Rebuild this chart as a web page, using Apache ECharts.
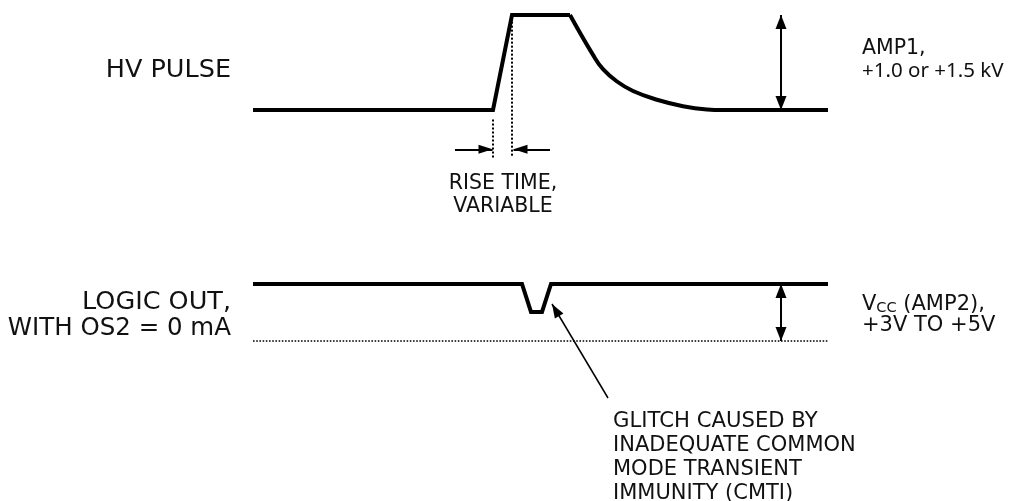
<!DOCTYPE html>
<html>
<head>
<meta charset="utf-8">
<script src="https://cdn.jsdelivr.net/npm/echarts@6/dist/echarts.min.js"></script>
<style>html,body{margin:0;padding:0;background:#fff;}#c{width:1009px;height:501px;}</style>
</head>
<body>
<div id="c"></div>
<script>
// HV pulse waveform: time units vs normalized level (0 = baseline, 1 = AMP1)
const hvTime  = [0, 240, 259, 317];
const hvLevel = [0, 0, 1, 1];
// HV pulse decay tail (smooth)
const decayTime  = [317, 340, 350, 364, 380, 404, 430, 454, 470, 575];
const decayLevel = [1, 0.58, 0.43, 0.30, 0.20, 0.108, 0.04, 0.006, 0, 0];
// Logic output: 1 = Vcc, 0 = ground; glitch dip in the middle
const logicTime  = [0, 269, 278, 289, 298, 575];
const logicLevel = [1, 1, 0.51, 0.51, 1, 1];
// Annotation geometry in the same time/level units
const riseStart = 240, riseEnd = 259, riseArrowLevel = -0.414;
const riseArrowFromLeft = 202, riseArrowFromRight = 297;
const ampArrowTime = 528;
const glitchTip = [299, 0.649], glitchTail = [355, -1];
// Text labels
const labelHV = 'HV PULSE';
const labelLogic = ['LOGIC OUT,', 'WITH OS2 = 0 mA'];
const labelRise = ['RISE TIME,', 'VARIABLE'];
const labelAmp1 = ['AMP1,', '+1.0 or +1.5 kV'];
const labelVcc2 = '+3V TO +5V';
const labelGlitch = ['GLITCH CAUSED BY', 'INADEQUATE COMMON', 'MODE TRANSIENT', 'IMMUNITY (CMTI)'];

const FONT = 'DejaVu Sans';
const BLACK = '#000';
const arrowSize = [11, 14];

function pairs(a, b) { return a.map((v, i) => [v, b[i]]); }

const chart = echarts.init(document.getElementById('c'), null, {renderer: 'canvas'});

function txt(x, y, text, size, align, font) {
  return {
    type: 'text', x: x, y: y, silent: true,
    style: { text: text, fontFamily: font || FONT, fontSize: size, fill: '#111',
             align: align || 'left', verticalAlign: 'middle' }
  };
}

const graphics = [
  txt(231, 70.5, labelHV, 25.5, 'right'),
  txt(231, 302, labelLogic[0], 25.5, 'right'),
  txt(231, 328.5, labelLogic[1], 24.5, 'right'),
  txt(503, 184, labelRise[0], 20.5, 'center'),
  txt(503, 207, labelRise[1], 20.5, 'center'),
  txt(862, 48.5, labelAmp1[0], 20.5),
  txt(862, 71.5, labelAmp1[1], 20.5, 'left', 'Noto Sans'),
  {
    type: 'text', x: 862, y: 303.5, silent: true,
    style: {
      text: '{v|V}{c|CC}{v| (AMP2),}', fontFamily: FONT, fill: '#111',
      verticalAlign: 'middle', align: 'left',
      rich: {
        v: {fontFamily: FONT, fontSize: 21, lineHeight: 24, verticalAlign: 'bottom', color: '#111'},
        c: {fontFamily: FONT, fontSize: 14.5, lineHeight: 24, verticalAlign: 'bottom', color: '#111'}
      }
    }
  },
  txt(862, 325.5, labelVcc2, 21),
  txt(613, 421.5, labelGlitch[0], 21.2),
  txt(613, 446, labelGlitch[1], 21),
  txt(613, 470, labelGlitch[2], 21),
  txt(613, 494, labelGlitch[3], 21)
];

function ml(data, lineStyle) {
  return {
    silent: true, animation: false,
    symbol: ['none', 'none'],
    symbolSize: arrowSize,
    label: {show: false},
    emphasis: {disabled: true},
    lineStyle: lineStyle,
    data: data
  };
}
function arrowEnd(p, size) {
  const s = size || arrowSize;
  return {coord: p, symbol: 'triangle', symbolSize: s, symbolOffset: [0, s[1] / 2]};
}
function plainEnd(p) { return {coord: p, symbol: 'none'}; }

const waveStyle = {color: BLACK, width: 4, join: 'miter', cap: 'butt'};
const riseHead = [9, 14];

const option = {
  animation: false,
  backgroundColor: '#fff',
  grid: [
    {left: 253, width: 575, top: 15, height: 142.5},
    {left: 253, width: 575, top: 284, height: 114}
  ],
  xAxis: [
    {type: 'value', gridIndex: 0, min: 0, max: 575, show: false},
    {type: 'value', gridIndex: 1, min: 0, max: 575, show: false}
  ],
  yAxis: [
    {type: 'value', gridIndex: 0, min: -0.5, max: 1, show: false},
    {type: 'value', gridIndex: 1, min: -1, max: 1, show: false}
  ],
  graphic: graphics,
  series: [
    {
      type: 'line', xAxisIndex: 0, yAxisIndex: 0, clip: false,
      data: pairs(hvTime, hvLevel), showSymbol: false, symbol: 'none',
      lineStyle: waveStyle
    },
    {
      type: 'line', xAxisIndex: 0, yAxisIndex: 0, clip: false,
      data: pairs(decayTime, decayLevel), showSymbol: false, symbol: 'none',
      smooth: 0.45, lineStyle: waveStyle
    },
    {
      type: 'line', xAxisIndex: 1, yAxisIndex: 1, clip: false,
      data: pairs(logicTime, logicLevel), showSymbol: false, symbol: 'none',
      lineStyle: waveStyle
    },
    {
      // ground reference of logic output (dotted)
      type: 'line', xAxisIndex: 1, yAxisIndex: 1, clip: false,
      data: [[0, 0], [575, 0]], showSymbol: false, symbol: 'none',
      lineStyle: {color: BLACK, width: 1.6, type: [1.6, 1.6]}
    },
    {
      // rise time dotted markers
      type: 'line', xAxisIndex: 0, yAxisIndex: 0, data: [], clip: false,
      markLine: ml([
        [plainEnd([riseStart, -0.1]), plainEnd([riseStart, -0.5])],
        [plainEnd([riseEnd, 0.93]), plainEnd([riseEnd, -0.5])]
      ], {color: BLACK, width: 2, type: [2, 2]})
    },
    {
      // arrows in HV grid
      type: 'line', xAxisIndex: 0, yAxisIndex: 0, data: [], clip: false,
      markLine: ml([
        [plainEnd([riseArrowFromLeft, riseArrowLevel]), arrowEnd([riseStart - 0.5, riseArrowLevel], riseHead)],
        [plainEnd([riseArrowFromRight, riseArrowLevel]), arrowEnd([riseEnd + 1.5, riseArrowLevel], riseHead)],
        [arrowEnd([ampArrowTime, 0]), arrowEnd([ampArrowTime, 1])]
      ], {color: BLACK, width: 2, type: 'solid'})
    },
    {
      // arrows in logic grid
      type: 'line', xAxisIndex: 1, yAxisIndex: 1, data: [], clip: false,
      markLine: ml([
        [arrowEnd([ampArrowTime, 0]), arrowEnd([ampArrowTime, 1])]
      ], {color: BLACK, width: 2, type: 'solid'})
    },
    {
      // glitch pointer
      type: 'line', xAxisIndex: 1, yAxisIndex: 1, data: [], clip: false,
      markLine: ml([
        [plainEnd(glitchTail), arrowEnd(glitchTip, [10, 14])]
      ], {color: BLACK, width: 1.5, type: 'solid'})
    }
  ]
};
chart.setOption(option);
</script>
</body>
</html>
